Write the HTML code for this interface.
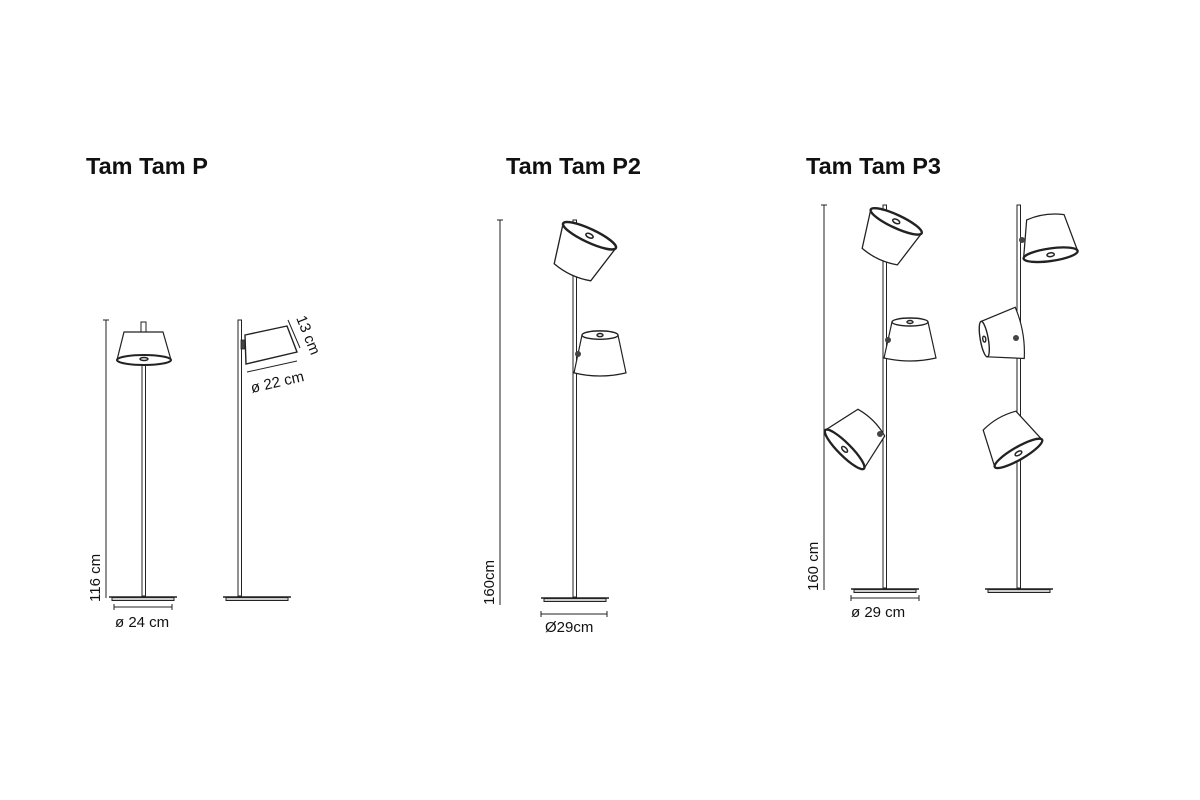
<!DOCTYPE html>
<html><head><meta charset="utf-8"><style>
html,body{margin:0;padding:0;background:#fff;}
svg{display:block;}
text{font-family:"Liberation Sans",Arial,sans-serif;fill:#111;}
.t{font-weight:bold;font-size:23.5px;}
.d{font-size:15px;}
</style></head><body>
<svg width="1200" height="800" viewBox="0 0 1200 800" xmlns="http://www.w3.org/2000/svg">
<defs>
 <g id="shHole">
  <path d="M-18,-18 L18,-18 L26,18 Q0,24 -26,18 Z" fill="#fff" stroke="#222" stroke-width="1.2"/>
  <ellipse cx="0" cy="-18" rx="18" ry="4" fill="#fff" stroke="#222" stroke-width="1.4"/>
  <ellipse cx="0" cy="-18" rx="3" ry="1.5" fill="#fff" stroke="#222" stroke-width="1.4"/>
 </g>
 <g id="shOpen">
  <path d="M-18,-18 Q0,-23 18,-18 L26,18 L-26,18 Z" fill="#fff" stroke="#222" stroke-width="1.2"/>
  <ellipse cx="0" cy="18" rx="26" ry="6" fill="#fff" stroke="#222" stroke-width="2.2"/>
  <ellipse cx="0" cy="18" rx="3.5" ry="1.8" fill="#fff" stroke="#222" stroke-width="1.4"/>
 </g>
 <g id="base">
  <line x1="-34" y1="0" x2="34" y2="0" stroke="#222" stroke-width="1.5"/>
  <rect x="-31" y="0.5" width="62" height="3" fill="#ccc" stroke="#222" stroke-width="1"/>
 </g>
</defs>

<text class="t" x="86" y="174">Tam Tam P</text>
<text class="t" x="506" y="174">Tam Tam P2</text>
<text class="t" x="806" y="174">Tam Tam P3</text>

<g stroke="#222" fill="none">
<line x1="106" y1="320" x2="106" y2="598" stroke-width="1"/>
<line x1="103" y1="320" x2="109" y2="320" stroke-width="1"/>
<rect x="142" y="365" width="3.5" height="231" fill="#fff" stroke-width="1"/>
<use href="#base" x="143" y="597"/>
<rect x="141" y="322" width="5" height="10" fill="#fff" stroke-width="1"/>
<path d="M124,332 L163,332 L171,360 Q144,368 117,360 Z" fill="#fff" stroke-width="1.2"/>
<ellipse cx="144" cy="360" rx="27" ry="5" fill="#fff" stroke-width="2"/>
<ellipse cx="144" cy="359" rx="4" ry="1.5" stroke-width="1.4"/>
<line x1="114" y1="607" x2="172" y2="607" stroke-width="1"/>
<line x1="114" y1="604" x2="114" y2="610" stroke-width="1"/>
<line x1="172" y1="604" x2="172" y2="610" stroke-width="1"/>

<rect x="238" y="320" width="3.5" height="276" fill="#fff" stroke-width="1"/>
<use href="#base" x="257" y="597"/>
<path d="M245,335 L287,326 L297,352 L246,364 Z" fill="#fff" stroke-width="1.4"/>
<rect x="241" y="340" width="4" height="9" fill="#444" stroke-width="0.8"/>
<line x1="288" y1="320" x2="300" y2="348" stroke-width="1"/>
<line x1="247" y1="372" x2="297" y2="361" stroke-width="1"/>

<line x1="500" y1="220" x2="500" y2="605" stroke-width="1"/>
<line x1="497" y1="220" x2="503" y2="220" stroke-width="1"/>
<rect x="573" y="220" width="3.5" height="377" fill="#fff" stroke-width="1"/>
<use href="#base" x="575" y="598"/>
<line x1="541" y1="614" x2="607" y2="614" stroke-width="1"/>
<line x1="541" y1="611" x2="541" y2="617" stroke-width="1"/>
<line x1="607" y1="611" x2="607" y2="617" stroke-width="1"/>
</g>
<use href="#shOpen" transform="translate(581,254) rotate(-155) scale(1.12)"/>
<use href="#shHole" transform="translate(600,354) scale(1.0,1.05)"/>
<circle cx="578" cy="354" r="3" fill="#444"/>

<g stroke="#222" fill="none">
<line x1="824" y1="205" x2="824" y2="590" stroke-width="1"/>
<line x1="821" y1="205" x2="827" y2="205" stroke-width="1"/>
<rect x="883" y="205" width="3.5" height="383" fill="#fff" stroke-width="1"/>
<use href="#base" x="885" y="589"/>
<line x1="851" y1="598" x2="919" y2="598" stroke-width="1"/>
<line x1="851" y1="595" x2="851" y2="601" stroke-width="1"/>
<line x1="919" y1="595" x2="919" y2="601" stroke-width="1"/>
<rect x="1017" y="205" width="3.5" height="383" fill="#fff" stroke-width="1"/>
<use href="#base" x="1019" y="589"/>
</g>
<use href="#shOpen" transform="translate(888,239) rotate(-155) scale(1.08)"/>
<use href="#shHole" transform="translate(910,340)"/>
<circle cx="888" cy="340" r="3" fill="#444"/>
<use href="#shOpen" transform="translate(858,436) rotate(45) scale(1.05)"/>
<circle cx="880" cy="434" r="3" fill="#444"/>
<use href="#shOpen" transform="translate(1048,236) rotate(-8) scale(1.05)"/>
<circle cx="1022" cy="240" r="3" fill="#444"/>
<use href="#shHole" transform="translate(1002,336) rotate(-100)"/>
<circle cx="1016" cy="338" r="3" fill="#444"/>
<use href="#shOpen" transform="translate(1009,437) rotate(-30) scale(1.05)"/>

<text class="d" x="115" y="627">ø 24 cm</text>
<text class="d" transform="translate(100,602) rotate(-90)">116 cm</text>
<text class="d" transform="translate(252,393) rotate(-13)">ø 22 cm</text>
<text class="d" transform="translate(296,318) rotate(68)">13 cm</text>
<text class="d" x="545" y="632">Ø29cm</text>
<text class="d" transform="translate(494,605) rotate(-90)">160cm</text>
<text class="d" x="851" y="617">ø 29 cm</text>
<text class="d" transform="translate(818,591) rotate(-90)">160 cm</text>
</svg>
</body></html>
